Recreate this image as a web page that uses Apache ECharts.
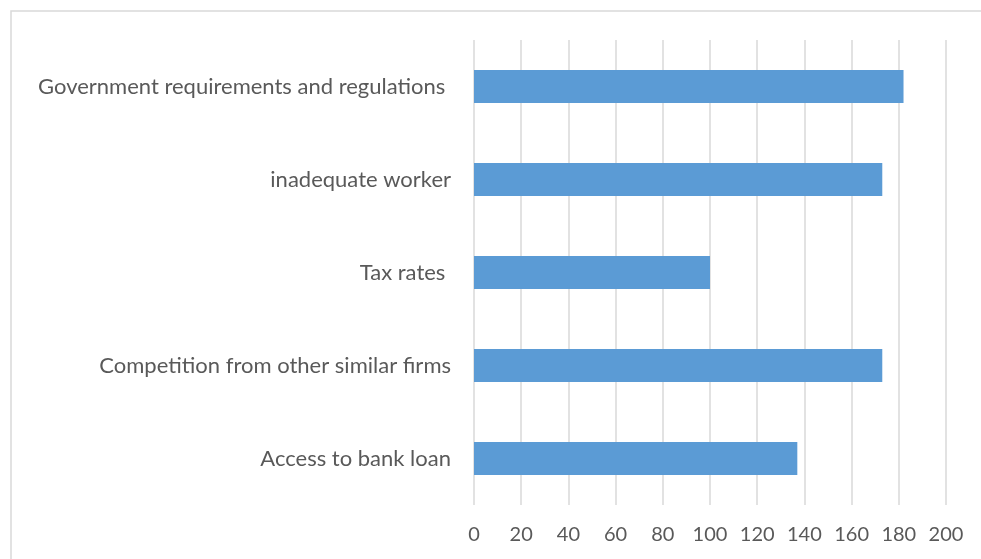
<!DOCTYPE html>
<html>
<head>
<meta charset="utf-8">
<script src="https://cdn.jsdelivr.net/npm/echarts@6/dist/echarts.min.js"></script>
<style>html,body{margin:0;padding:0;background:#fff}#c{width:981px;height:559px}</style>
</head>
<body>
<div id="c"></div>
<script>
var categories = ["Government requirements and regulations ", "inadequate worker", "Tax rates ", "Competition from other similar firms", "Access to bank loan"];
var values = [182, 173, 100, 173, 137];
var xTicks = { min: 0, max: 200, interval: 20 };

var chart = echarts.init(document.getElementById('c'), null, { renderer: 'canvas' });
chart.setOption({
  animation: false,
  backgroundColor: '#fff',
  graphic: [{
    type: 'rect',
    shape: { x: 11, y: 11, width: 1000, height: 600 },
    style: { fill: 'none', stroke: '#d9d9d9', lineWidth: 1.5 },
    silent: true
  }],
  grid: { left: 474, right: 35, top: 40, bottom: 54, containLabel: false },
  xAxis: {
    type: 'value',
    min: xTicks.min, max: xTicks.max, interval: xTicks.interval,
    axisLine: { show: false },
    axisTick: { show: false },
    splitLine: { show: true, lineStyle: { color: '#d9d9d9', width: 1.5 } },
    axisLabel: { color: '#595959', fontFamily: 'Lato', fontSize: 20, margin: 20 }
  },
  yAxis: {
    type: 'category',
    data: categories,
    inverse: true,
    axisLine: { show: false },
    axisTick: { show: false },
    axisLabel: { color: '#595959', fontFamily: 'Lato', fontSize: 22, margin: 23 }
  },
  series: [{
    type: 'bar',
    data: values,
    barWidth: 33,
    itemStyle: { color: '#5B9BD5' }
  }]
});
</script>
</body>
</html>
